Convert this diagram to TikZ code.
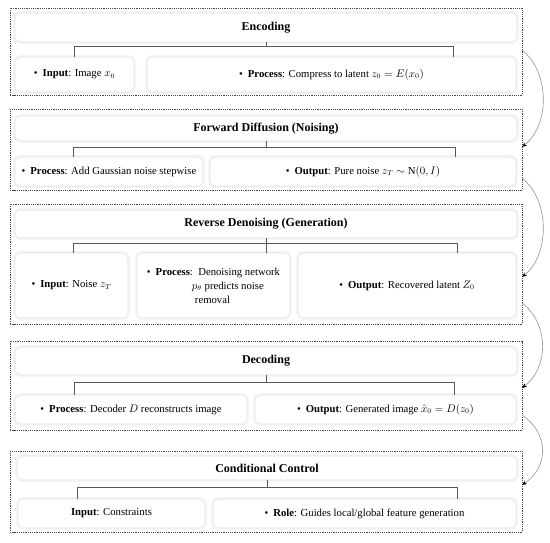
\documentclass[tikz,border=0pt]{standalone}
\usepackage{fontspec}
\setmainfont{Liberation Serif}
\usetikzlibrary{arrows.meta}
\tikzset{
  frame/.style={draw=black!72, line width=0.7pt, dash pattern=on 1.3pt off 0.9pt, inner sep=0pt, outer sep=0pt, fill=none},
  card/.style={rounded corners=5pt, fill=white, draw=black!7, line width=1.2pt,
               preaction={draw=black!4, line width=4pt},
               inner sep=2pt, outer sep=0pt, font=\fontsize{10.7}{14}\selectfont},
  titlecard/.style={card, font=\fontsize{12}{14}\selectfont\bfseries},
  tree/.style={draw=black!65, line width=0.8pt},
  flow/.style={draw=black!42, line width=0.6pt, -{Stealth[length=5pt,width=4pt,color=black]}}
}
\newcommand{\bul}{\textbullet\hspace{5pt}}
\begin{document}
\begin{tikzpicture}[x=1pt,y=-1pt]
\useasboundingbox (0,0) rectangle (550,543);
\fill[white] (0,0) rectangle (550,543);

% ---------- Group 1: Encoding ----------
\node[frame, minimum width=512pt, minimum height=87pt] (G1) at (266,51.5) {};
\node[titlecard, minimum width=502pt, minimum height=29pt] (t1) at (266,27.5) {Encoding};
\node[card, minimum width=119pt, minimum height=35pt] (b1a) at (74.5,74.5) {\bul\textbf{Input}: Image $x_0$};
\node[card, minimum width=369pt, minimum height=35pt] (b1b) at (331.5,74.5) {\bul\textbf{Process}: Compress to latent $z_0 = E(x_0)$};
\coordinate (L1) at (74,46);
\coordinate (R1) at (453,46);
\draw[tree] (t1.south) -- (t1.south |- L1);
\draw[tree] (L1 |- b1a.north) -- (L1) -- (R1) -- (R1 |- b1b.north);

% ---------- Group 2: Forward Diffusion ----------
\node[frame, minimum width=512pt, minimum height=81pt] (G2) at (266,149.5) {};
\node[titlecard, minimum width=502pt, minimum height=25pt] (t2) at (266,128.5) {Forward Diffusion (Noising)};
\node[card, minimum width=188pt, minimum height=29pt] (b2a) at (109,171.5) {\bul\textbf{Process}: Add Gaussian noise stepwise};
\node[card, minimum width=306pt, minimum height=29pt] (b2b) at (363,171.5) {\bul\textbf{Output}: Pure noise $z_T \sim \mathrm{N}(0,I)$};
\coordinate (L2) at (73,147);
\coordinate (R2) at (455,147);
\draw[tree] (t2.south) -- (t2.south |- L2);
\draw[tree] (L2 |- b2a.north) -- (L2) -- (R2) -- (R2 |- b2b.north);

% ---------- Group 3: Reverse Denoising ----------
\node[frame, minimum width=512pt, minimum height=120pt] (G3) at (266,264) {};
\node[titlecard, minimum width=502pt, minimum height=28pt] (t3) at (266,224) {Reverse Denoising (Generation)};
\node[card, minimum width=113pt, minimum height=65pt] (b3a) at (71.5,285.5) {\bul\textbf{Input}: Noise $z_T$};
\node[card, minimum width=153pt, minimum height=65pt, align=left] (b3b) at (213.5,285.5)
  {\bul\textbf{Process}:\ \ Denoising network\\\hspace*{45pt}$p_\theta$ predicts noise\\\hspace*{48pt}removal};
\node[card, minimum width=218pt, minimum height=65pt] (b3c) at (407,285.5) {\bul\textbf{Output}: Recovered latent $Z_0$};
\coordinate (L3) at (73,243);
\coordinate (R3) at (457,243);
\draw[tree] (t3.south) -- (t3.south |- b3b.north);
\draw[tree] (L3 |- b3a.north) -- (L3) -- (R3) -- (R3 |- b3c.north);

% ---------- Group 4: Decoding ----------
\node[frame, minimum width=512pt, minimum height=89pt] (G4) at (266,385.5) {};
\node[titlecard, minimum width=502pt, minimum height=28pt] (t4) at (266,361) {Decoding};
\node[card, minimum width=232pt, minimum height=29pt] (b4a) at (131,409.5) {\bul\textbf{Process}: Decoder $D$ reconstructs image};
\node[card, minimum width=261pt, minimum height=29pt] (b4b) at (385.5,409.5) {\bul\textbf{Output}: Generated image $\hat{x}_0 = D(z_0)$};
\coordinate (L4) at (74,382);
\coordinate (R4) at (454,382);
\draw[tree] (t4.south) -- (t4.south |- L4);
\draw[tree] (L4 |- b4a.north) -- (L4) -- (R4) -- (R4 |- b4b.north);

% ---------- Group 5: Conditional Control ----------
\node[frame, minimum width=512pt, minimum height=81pt] (G5) at (266,491.5) {};
\node[titlecard, minimum width=500pt, minimum height=24pt] (t5) at (267,468) {Conditional Control};
\node[card, minimum width=187pt, minimum height=29pt] (b5a) at (111.5,513.5) {\textbf{Input}: Constraints};
\node[card, minimum width=303pt, minimum height=29pt] (b5b) at (364.5,513.5) {\bul\textbf{Role}: Guides local/global feature generation};
\coordinate (L5) at (77,487);
\coordinate (R5) at (457,487);
\draw[tree] (t5.south) -- (t5.south |- L5);
\draw[tree] (L5 |- b5a.north) -- (L5) -- (R5) -- (R5 |- b5b.north);

% ---------- flow arrows between groups ----------
\coordinate (s1) at (G1.east |- 0,50);
\coordinate (e1) at (G2.east |- 0,147);
\coordinate (s2) at (G2.east |- 0,178);
\coordinate (e2) at (G3.east |- 0,277);
\coordinate (s3) at (G3.east |- 0,303);
\coordinate (e3) at (G4.east |- 0,388);
\coordinate (s4) at (G4.east |- 0,415);
\coordinate (e4) at (G5.east |- 0,485);
\draw[flow] (s1) .. controls +(28,22) and +(28,-22) .. (e1);
\draw[flow] (s2) .. controls +(28,22) and +(28,-22) .. (e2);
\draw[flow] (s3) .. controls +(27,20) and +(27,-20) .. (e3);
\draw[flow] (s4) .. controls +(27,18) and +(27,-18) .. (e4);
\end{tikzpicture}
\end{document}
